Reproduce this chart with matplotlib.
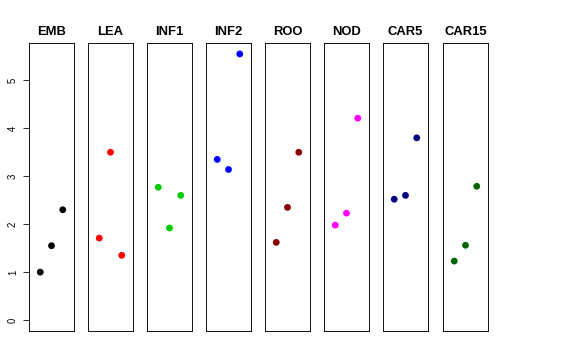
import matplotlib
matplotlib.use("Agg")
import matplotlib.pyplot as plt

titles = ["EMB", "LEA", "INF1", "INF2", "ROO", "NOD", "CAR5", "CAR15"]
colors = ["#000000", "#FF0000", "#00CD00", "#0000FF", "#8B0000", "#FF00FF", "#000080", "#006400"]
values = [
    [1.00, 1.55, 2.30],
    [1.71, 3.50, 1.35],
    [2.77, 1.92, 2.60],
    [3.35, 3.14, 5.55],
    [1.62, 2.35, 3.50],
    [1.98, 2.23, 4.21],
    [2.52, 2.60, 3.80],
    [1.23, 1.56, 2.79],
]
yticks = [0, 1, 2, 3, 4, 5]

W, H = 576, 360
fig = plt.figure(figsize=(W / 72, H / 72), dpi=72)
lefts = [29, 88, 147, 206, 265, 324, 383, 443]
pw = 45
top, bottom = 43.3, 330.7
for i, (t, c, v) in enumerate(zip(titles, colors, values)):
    ax = fig.add_axes([lefts[i] / W, 1 - bottom / H, pw / W, (bottom - top) / H])
    ax.scatter([1, 2, 3], v, s=46, color=c, edgecolors="none", zorder=3)
    ax.set_xlim(0, 4)
    ax.set_ylim(-0.222, 5.772)
    ax.set_xticks([])
    for sp in ax.spines.values():
        sp.set_linewidth(0.9)
    ax.set_title(t, fontsize=13, fontweight="bold", pad=8,
                 family=["Liberation Sans", "DejaVu Sans"])
    if i == 0:
        ax.set_yticks(yticks)
        ax.set_yticklabels([str(y) for y in yticks], rotation=90, va="center", fontsize=9.5,
                           family=["Liberation Sans", "DejaVu Sans"])
        ax.tick_params(axis="y", length=6, width=0.8, pad=5)
    else:
        ax.set_yticks([])

fig.savefig("out.png", dpi=72)
